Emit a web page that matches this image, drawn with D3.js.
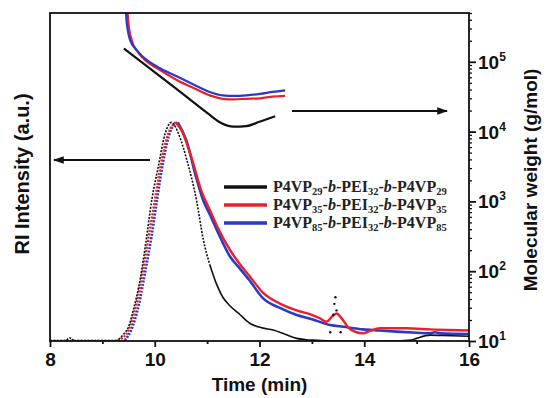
<!DOCTYPE html>
<html><head><meta charset="utf-8">
<script src="https://cdn.jsdelivr.net/npm/d3@7"></script>
<style>body{margin:0;background:#fff}svg{display:block}</style>
</head><body><svg id="c" width="549" height="398"></svg>
<script>
// ---- data ----
const xTicks = [8, 10, 12, 14, 16];
const xMinorTicks = [9, 11, 13, 15];
const yRightTicks = [1e1, 1e2, 1e3, 1e4, 1e5];
const yRightExp = ["1", "2", "3", "4", "5"];
const seriesNames = [["29","32","29"], ["35","32","35"], ["85","32","85"]];
const seriesColors = ["#111111", "#e8202a", "#2b38c8"];

// RI traces (time in min, normalized intensity)
const riBlackT = [8.0,8.3,8.34,8.38,8.42,8.46,9.0,9.24,9.4,9.5,9.6,9.72,9.83,9.94,10.07,10.2,10.32,10.45,10.61,10.8,10.93,11.05,11.18,11.3,11.44,11.63,11.82,12.05,12.26,12.5,12.71,12.9,13.02,13.3,14.0,14.5,14.9,15.0,15.26,15.5,16.0];
const riBlackI = [0,0,0.01,0.014,0.01,0,0,0,0.03,0.065,0.15,0.28,0.45,0.64,0.80,0.95,1.0,0.95,0.83,0.64,0.46,0.35,0.26,0.2,0.16,0.12,0.08,0.06,0.05,0.03,0.012,0.006,0.004,0.001,0,0,0.004,0.012,0.027,0.025,0.022];
const riRedT = [8.0,9.22,9.35,9.5,9.65,9.78,9.9,10.0,10.12,10.26,10.40,10.52,10.7,10.9,11.05,11.2,11.44,11.63,11.8,12.07,12.4,12.71,13.0,13.15,13.28,13.38,13.47,13.58,13.7,13.85,13.98,14.1,14.3,14.8,15.26,15.6,16.0];
const riRedI = [0,0,0.01,0.05,0.17,0.33,0.5,0.64,0.81,0.95,1.0,0.96,0.84,0.68,0.60,0.52,0.415,0.35,0.30,0.22,0.17,0.14,0.12,0.104,0.088,0.11,0.126,0.10,0.06,0.04,0.035,0.045,0.058,0.058,0.053,0.05,0.048];
const riBlueT = [8.0,9.38,9.45,9.55,9.7,9.82,9.94,10.04,10.16,10.3,10.44,10.6,10.8,10.93,11.05,11.2,11.44,11.63,11.8,12.07,12.4,12.71,13.0,13.35,13.6,13.98,14.3,14.62,15.0,15.26,15.35,15.45,16.0];
const riBlueI = [0,0,0.01,0.05,0.17,0.32,0.48,0.64,0.82,0.96,1.0,0.92,0.74,0.64,0.58,0.50,0.385,0.33,0.28,0.195,0.15,0.119,0.10,0.073,0.065,0.053,0.048,0.043,0.038,0.035,0.04,0.035,0.032];
// black spike points (sparse markers)
const spikeT = [13.35,13.41,13.43,13.45,13.47,13.55];
const spikeI = [0.04,0.12,0.17,0.20,0.14,0.04];

// molecular weight traces (time in min, g/mol)
const mwBlackT = [9.41,10.42,11.0,11.25,11.5,11.75,12.0,12.3];
const mwBlackM = [1.55e5,4.07e4,1.86e4,1.35e4,1.175e4,1.2e4,1.38e4,1.66e4];
const mwRedT = [9.47,9.49,9.56,9.67,9.78,10.1,10.42,10.75,11.05,11.3,11.5,11.75,12.01,12.25,12.49];
const mwRedM = [1e6,4e5,2.04e5,1.41e5,1.12e5,7.6e4,5.5e4,4.17e4,3.3e4,2.95e4,2.9e4,2.95e4,3.0e4,3.16e4,3.24e4];
const mwBlueT = [9.44,9.46,9.53,9.65,9.78,10.1,10.42,10.75,11.05,11.3,11.5,11.75,12.01,12.25,12.49];
const mwBlueM = [1e6,3.98e5,2.04e5,1.48e5,1.17e5,8.1e4,6.2e4,4.7e4,3.7e4,3.3e4,3.24e4,3.3e4,3.47e4,3.7e4,3.9e4];

// ---- layout ----
const L = 50, R = 469, T = 13, B = 341;
const svg = d3.select("#c");
const x = d3.scaleLinear().domain([8, 16]).range([L, R]);
const yRI = d3.scaleLinear().domain([0, 1.5]).range([B, T]);
const yMW = d3.scaleLog().domain([10, 5e5]).range([B, T]);
const sans = "'Liberation Sans', Arial, sans-serif";
const serif = "'Liberation Serif', 'Times New Roman', serif";

svg.append("defs").append("clipPath").attr("id","clip")
  .append("rect").attr("x",L).attr("y",T).attr("width",R-L).attr("height",B-T);
const marker = svg.select("defs").append("marker").attr("id","ah")
  .attr("viewBox","0 0 10 10").attr("refX",9).attr("refY",5)
  .attr("markerWidth",6).attr("markerHeight",6).attr("orient","auto-start-reverse");
marker.append("path").attr("d","M0,1.5 L10,5 L0,8.5 Z").attr("fill","#111");

const g = svg.append("g").attr("clip-path","url(#clip)");
const riLine = d3.line().curve(d3.curveMonotoneX);
function riPts(T_, I_) { return T_.map((t,i)=>[x(t), yRI(I_[i])]); }
function mwPts(T_, M_) { return M_.map((m,i)=>[x(T_[i]), yMW(m)]); }

const riSets = [[riBlackT,riBlackI,1.6],[riRedT,riRedI,2.4],[riBlueT,riBlueI,2.6]];
[2,1,0].forEach(k=>{
  const [tt,ii,w] = riSets[k];
  const peak = ii.indexOf(1.0);
  const dotEnd = k===0 ? tt.findIndex(t=>t>=11.0) : peak;
  const p = riPts(tt,ii);
  g.append("path").attr("d", riLine(p.slice(0, dotEnd+1)))
    .attr("fill","none").attr("stroke",seriesColors[k]).attr("stroke-width",w)
    .attr("stroke-dasharray","2,1.4");
  g.append("path").attr("d", riLine(p.slice(dotEnd)))
    .attr("fill","none").attr("stroke",seriesColors[k]).attr("stroke-width",w);
});
g.selectAll("circle.spk").data(spikeT).enter().append("circle")
  .attr("cx",(d)=>x(d)).attr("cy",(d,i)=>yRI(spikeI[i])).attr("r",1.2).attr("fill","#111");

const mwLine = d3.line().curve(d3.curveMonotoneX);
[[mwBlackT,mwBlackM,0],[mwRedT,mwRedM,1],[mwBlueT,mwBlueM,2]].forEach(([tt,mm,k])=>{
  g.append("path").attr("d", mwLine(mwPts(tt,mm))).attr("fill","none")
    .attr("stroke",seriesColors[k]).attr("stroke-width",2.2);
});

// frame
svg.append("rect").attr("x",L).attr("y",T).attr("width",R-L).attr("height",B-T)
  .attr("fill","none").attr("stroke","#111").attr("stroke-width",1.8);

// bottom axis
const xa = svg.append("g").attr("transform",`translate(0,${B})`)
  .call(d3.axisBottom(x).tickValues(xTicks).tickSize(6).tickPadding(6).tickFormat(d3.format("d")));
xa.select(".domain").remove();
xa.selectAll(".tick line").attr("stroke","#111").attr("stroke-width",1.8);
xa.selectAll(".tick text").attr("font-family",sans).attr("font-weight","bold")
  .attr("font-size",19).attr("fill","#111");
svg.append("g").attr("transform",`translate(0,${B})`)
  .call(d3.axisBottom(x).tickValues(xMinorTicks).tickSize(3).tickFormat(""))
  .call(s=>{s.select(".domain").remove(); s.selectAll("line").attr("stroke","#111").attr("stroke-width",1.8);});

// right axis (log)
const minor = [];
for (let e=1;e<=5;e++) for (let m=2;m<=9;m++){ const v=m*Math.pow(10,e); if (v<=5e5) minor.push(v); }
svg.append("g").attr("transform",`translate(${R},0)`)
  .call(d3.axisRight(yMW).tickValues(minor).tickSize(3).tickFormat(""))
  .call(s=>{s.select(".domain").remove(); s.selectAll("line").attr("stroke","#111").attr("stroke-width",1.3);});
const ya = svg.append("g").attr("transform",`translate(${R},0)`)
  .call(d3.axisRight(yMW).tickValues(yRightTicks).tickSize(7).tickFormat(""));
ya.select(".domain").remove();
ya.selectAll("line").attr("stroke","#111").attr("stroke-width",1.8);
yRightTicks.forEach((v,i)=>{
  const t = svg.append("text").attr("x",R+9).attr("y",yMW(v)+7)
    .attr("font-family",sans).attr("font-weight","bold").attr("font-size",19).attr("fill","#111");
  t.append("tspan").text("10");
  t.append("tspan").attr("dy",-8).attr("font-size",12).text(yRightExp[i]);
});

// axis titles
svg.append("text").attr("x",(L+R)/2).attr("y",391).attr("text-anchor","middle")
  .attr("font-family",sans).attr("font-weight","bold").attr("font-size",19).attr("fill","#111").text("Time (min)");
svg.append("text").attr("transform","translate(29,174) rotate(-90)").attr("text-anchor","middle")
  .attr("font-family",sans).attr("font-weight","bold").attr("font-size",20).attr("fill","#111").text("RI Intensity (a.u.)");
svg.append("text").attr("transform","translate(537,180) rotate(-90)").attr("text-anchor","middle")
  .attr("font-family",sans).attr("font-weight","bold").attr("font-size",19).attr("fill","#111").text("Molecular weight (g/mol)");

// arrows
svg.append("line").attr("x1",150).attr("y1",160).attr("x2",54).attr("y2",160)
  .attr("stroke","#111").attr("stroke-width",1.8).attr("marker-end","url(#ah)");
svg.append("line").attr("x1",292).attr("y1",111).attr("x2",447).attr("y2",111)
  .attr("stroke","#111").attr("stroke-width",1.8).attr("marker-end","url(#ah)");

// legend
const legY = [187, 205, 223];
seriesNames.forEach((n,i)=>{
  svg.append("line").attr("x1",224).attr("x2",267).attr("y1",legY[i]).attr("y2",legY[i])
    .attr("stroke",seriesColors[i]).attr("stroke-width",3.5);
  const t = svg.append("text").attr("x",273).attr("y",legY[i]+5)
    .attr("font-family",serif).attr("font-weight","bold").attr("font-size",16).attr("fill","#222");
  const parts = [["P4VP",0],[n[0],1],["-",0],["b",2],["-PEI",0],[n[1],1],["-",0],["b",2],["-P4VP",0],[n[2],1]];
  let sub = false;
  parts.forEach(([s,k])=>{
    const ts = t.append("tspan").text(s);
    if (k===1){ ts.attr("font-size",10.5).attr("dy", sub?0:3); sub=true; }
    else { if (sub){ ts.attr("dy",-3); sub=false; } if (k===2) ts.attr("font-style","italic"); }
  });
});
</script></body></html>
